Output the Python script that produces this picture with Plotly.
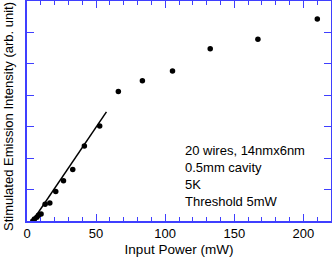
import plotly.graph_objects as go

power_mw = [4.2, 5.4, 7.1, 8.3, 10.2, 13.1, 16.5, 20.8, 26.4, 33.1, 41.5, 52.6,
            66.1, 83.5, 105.3, 132.6, 167.1, 210.1]
intensity = [0.0, 0.06, 0.12, 0.18, 0.22, 0.53, 0.57, 0.94, 1.28, 1.64, 2.39, 3.02,
             4.12, 4.46, 4.77, 5.48, 5.78, 6.43]
fit_x = [4.0, 57.5]
fit_y = [0.0, 3.47]
x_ticks = [0, 50, 100, 150, 200]
note_lines = ["20 wires, 14nmx6nm", "0.5mm cavity", "5K", "Threshold 5mW"]
x_title = "Input Power (mW)"
y_title = "Stimulated Emission Intensity (arb. unit)"

axis_blue = "#3f3fff"
font_family = "Liberation Sans, Arial, Helvetica, sans-serif"

fig = go.Figure()
fig.add_trace(go.Scatter(x=fit_x, y=fit_y, mode="lines",
                         line=dict(color="black", width=1.5), showlegend=False))
fig.add_trace(go.Scatter(x=power_mw, y=intensity, mode="markers",
                         marker=dict(color="black", size=5.5), showlegend=False))

fig.add_annotation(xref="paper", yref="paper", x=0.513, y=0.363, xanchor="left", yanchor="top",
                   text="<br>".join(note_lines), showarrow=False, align="left",
                   font=dict(size=13, color="black", family=font_family))

fig.add_annotation(xref="paper", yref="paper", x=-0.059, y=0.473, xanchor="center", yanchor="middle",
                   text=y_title, textangle=-90, showarrow=False,
                   font=dict(size=13, color="black", family=font_family))

fig.update_layout(
    width=332, height=257,
    margin=dict(l=27, r=1, t=1, b=36, autoexpand=False),
    paper_bgcolor="white", plot_bgcolor="white",
    font=dict(family=font_family, color="black", size=12),
    xaxis=dict(range=[0, 220], tickvals=x_ticks, ticks="inside", ticklen=7, tickcolor=axis_blue,
               tickwidth=1, showline=True, linecolor=axis_blue, linewidth=1.5, mirror="allticks",
               showgrid=False, zeroline=False, automargin=False,
               minor=dict(dtick=10, ticks="inside", ticklen=4, tickcolor=axis_blue, showgrid=False),
               title=dict(text=x_title, font=dict(size=13.5), standoff=4),
               tickfont=dict(size=13)),
    yaxis=dict(range=[0, 7], dtick=1, ticks="inside", ticklen=7, tickcolor=axis_blue,
               tickwidth=1, showline=True, linecolor=axis_blue, linewidth=1.5, mirror="allticks",
               showgrid=False, zeroline=False, showticklabels=False, automargin=False),
)

fig.write_html("out.html", config={"displayModeBar": False},
               post_script="document.body.style.margin='0';document.body.style.overflow='hidden';")
